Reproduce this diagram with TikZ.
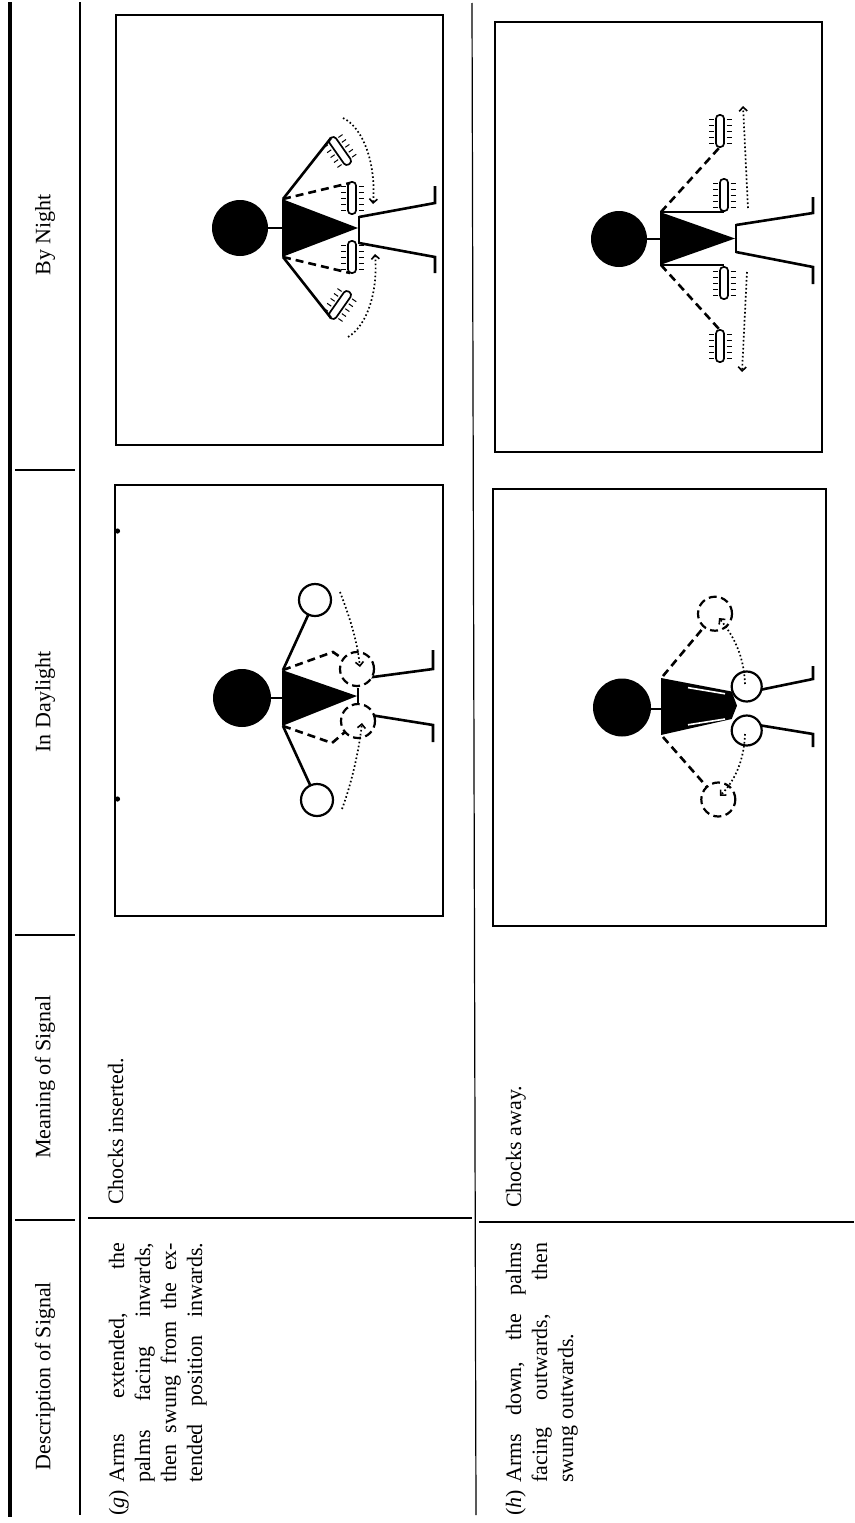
\documentclass[tikz,border=0pt]{standalone}
\usepackage{fontspec}
\setmainfont{Liberation Serif}
\usetikzlibrary{arrows.meta}

% a lit wand with its light rays, drawn about its centre and turned by an angle
\newcommand\torch[3]{%
  \begin{scope}[shift={(#1,#2)},rotate=#3]
    \draw[torchline,rounded corners=3.5pt] (-16,-4) rectangle (16,4);
    \foreach \rr in {-12,-6,0,6,12}{%
      \draw[rays] (\rr,6.5) -- (\rr,11.5);
      \draw[rays] (\rr,-6.5) -- (\rr,-11.5);}
  \end{scope}}

\begin{document}
\begin{tikzpicture}[x=1pt,y=-1pt,
  heavyrule/.style={line width=3.5pt},
  rule/.style={line width=1.2pt},
  frame/.style={line width=2pt},
  limb/.style={line width=2.6pt},
  dlimb/.style={line width=2.6pt,dash pattern=on 8pt off 5pt},
  hand/.style={draw,line width=2.2pt,fill=white},
  dhand/.style={draw,line width=2.2pt,fill=white,dash pattern=on 8pt off 4.5pt},
  swing/.style={line width=1.7pt,dash pattern=on 1.6pt off 2.4pt,
    -{Straight Barb[length=4pt,width=8pt,line width=1.6pt]}},
  torchline/.style={line width=1.7pt},
  rays/.style={line width=1pt},
  headtext/.style={font=\fontsize{22}{24}\selectfont,rotate=90,inner sep=0pt},
  bodytext/.style={font=\fontsize{22}{24}\selectfont,rotate=90,inner sep=0pt,anchor=base west},
]
\fill[white] (0,0) rectangle (854,1523);
\useasboundingbox (0,0) rectangle (854,1523);

% ---------- table rules ----------
\draw[heavyrule] (10,2) -- (10,1517);
\draw[rule] (80,2) -- (80,1515);
\draw[rule] (472,3) -- (476,1515);
\draw[rule] (15,470) -- (75,470);
\draw[rule] (15,935) -- (75,935);
\draw[rule] (15,1220) -- (75,1220);
\draw[rule] (88,1218) -- (472,1218);
\draw[rule] (479,1222) -- (854,1222);

% ---------- column heads ----------
\node[headtext] (hnight) at (45,235) {By Night};
\node[headtext] (hday) at (45,702) {In Daylight};
\node[headtext] (hmean) at (45,1077) {Meaning of Signal};
\node[headtext] (hdesc) at (45,1376) {Description of Signal};

% ---------- meanings ----------
\node[bodytext] (mg) at (123,1205) {Chocks inserted.};
\node[bodytext] (mh) at (521,1208) {Chocks away.};

% ---------- descriptions ----------
\node[bodytext] (g0) at (124,1516) {(\textit{g})};
\node[bodytext] (g1) at (124,1483) {\makebox[240pt][s]{Arms extended, the}};
\node[bodytext] (g2) at (150,1483) {\makebox[240pt][s]{palms facing inwards,}};
\node[bodytext] (g3) at (176,1483) {\makebox[240pt][s]{then swung from the ex-}};
\node[bodytext] (g4) at (202,1483) {\makebox[240pt][s]{tended position inwards.}};
\node[bodytext] (h0) at (521,1516) {(\textit{h})};
\node[bodytext] (h1) at (521,1483) {\makebox[240pt][s]{Arms down, the palms}};
\node[bodytext] (h2) at (547,1483) {\makebox[240pt][s]{facing outwards, then}};
\node[bodytext] (h3) at (573,1483) {swung outwards.};

% ---------- picture frames ----------
\draw[frame] (116,15) rectangle (443,445);
\draw[frame] (115,485) rectangle (443,916);
\draw[frame] (495,22) rectangle (822,452);
\draw[frame] (493,489) rectangle (826,926);
\fill (117.5,531) circle (2.6pt);
\fill (117.5,799) circle (2.6pt);

% ---------- (g) by night ----------
\fill (240,228) circle (28pt);
\draw[limb] (266,228) -- (282,228);
\fill (282,199) -- (358,228) -- (282,257) -- cycle;
\draw[limb] (359,216) -- (359,244);
\draw[limb,line join=miter] (359,217) -- (435,203) -- (435,186);
\draw[limb,line join=miter] (359,243) -- (435,257) -- (435,273);
\draw[limb] (283,199) -- (331,138);
\draw[limb] (283,257) -- (331,318);
\torch{340}{151}{-55}
\torch{340}{305}{55}
\draw[dlimb] (283,199) -- (350,183);
\draw[dlimb] (283,257) -- (350,273);
\torch{352}{198}{90}
\torch{352}{257}{90}
\draw[swing] (343,118) .. controls (364,128) and (376,165) .. (373,204);
\draw[swing] (348,337) .. controls (368,325) and (378,290) .. (375,254);

% ---------- (g) in daylight ----------
\fill (242,698) circle (29pt);
\draw[limb] (269,698) -- (282,698);
\draw[limb,line join=miter] (358,679) -- (433,669) -- (433,650);
\draw[limb,line join=miter] (358,713) -- (433,725) -- (433,742);
\fill (282,670) -- (357,696) -- (282,726) -- cycle;
\draw[limb] (283,670) -- (315,600);
\draw[limb] (283,726) -- (317,800);
\path[hand] (315,600) circle (16pt);
\path[hand] (317,800) circle (16pt);
\draw[dlimb] (283,670) -- (333,652) -- (343,659);
\draw[dlimb] (283,726) -- (332,743) -- (345,732);
\path[dhand] (357,669) circle (17pt);
\path[dhand] (358,721) circle (17pt);
\draw[limb] (358,688) -- (358,705);
\draw[swing] (340,592) .. controls (350,618) and (357,640) .. (360,667);
\draw[swing] (342,809) .. controls (352,782) and (359,750) .. (362,723);

% ---------- (h) by night ----------
\fill (619,239) circle (28pt);
\draw[limb] (645,239) -- (660,239);
\fill (660,212) -- (735,238.5) -- (660,265) -- cycle;
\draw[limb] (736,224) -- (736,253);
\draw[limb,line join=miter] (736,225) -- (813,213) -- (813,197);
\draw[limb,line join=miter] (736,252) -- (813,267) -- (813,284);
\draw[limb] (660,212) -- (724,212);
\draw[limb] (660,265) -- (724,265);
\torch{724}{195}{90}
\torch{724}{283}{90}
\draw[dlimb] (661,212) -- (719,148);
\draw[dlimb] (661,265) -- (719,329);
\torch{720}{131}{90}
\torch{720}{346}{90}
\draw[swing] (748,208) -- (743,106);
\draw[swing] (747,272) -- (742,372);

% ---------- (h) in daylight ----------
\fill (622,707.5) circle (29pt);
\draw[limb] (649,709) -- (661,709);
\draw[limb,line join=miter] (740,694) -- (813,679) -- (813,666);
\draw[limb,line join=miter] (740,722) -- (813,734) -- (813,747);
\fill (661,678) -- (731.7,691.5) -- (737,705.6) -- (731.7,719) -- (661,735) -- cycle;
\draw[white,line width=1.6pt] (688,687.6) -- (725,693.8);
\draw[white,line width=1.6pt] (688,724.8) -- (725,719);
\path[hand] (746.7,686.5) circle (15pt);
\path[hand] (746.7,730.5) circle (15pt);
\draw[dlimb] (663,676) -- (704,627);
\draw[dlimb] (663,737) -- (707,787);
\path[dhand] (715,613.7) circle (17pt);
\path[dhand] (718.3,799.5) circle (17pt);
\draw[swing] (745,684) .. controls (744,660) and (737,640) .. (719,618);
\draw[swing] (745,734) .. controls (744,758) and (737,778) .. (720,796);
\end{tikzpicture}
\end{document}
